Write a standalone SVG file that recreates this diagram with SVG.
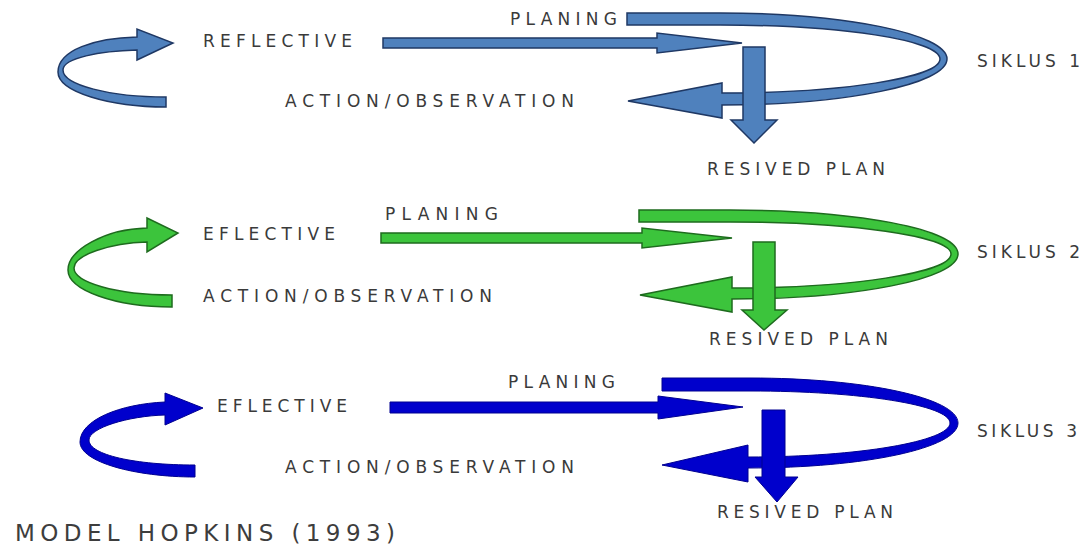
<svg xmlns="http://www.w3.org/2000/svg" width="1089" height="546" viewBox="0 0 1089 546">
<style>
text{font-family:"DejaVu Sans","Liberation Sans",sans-serif;font-size:17px;fill:#3a3a3a}
.title{font-size:23px;fill:#3d3d3d}
.c1{fill:#4f81bd;stroke:#1f3864;stroke-width:1.5;stroke-linejoin:miter}
.c2{fill:#3cc43c;stroke:#1e6b1e;stroke-width:1.5}
.c3{fill:#0000cc;stroke:#000090;stroke-width:1}
</style>
<rect width="1089" height="546" fill="#ffffff"/>
<g id="connectors">
  <!-- cycle 1 -->
  <path class="c1" d="M166,97 L166,107 C110,107 58,92 58,72 C58,50 95,38 137,37 L137,29 L173,43 L137,60 L137,50 C100,51 63,58 63,70 C63,85 110,97 166,97 Z"/>
  <path class="c1" d="M627,13 L720,13 C845,13 947,34 947,59 C947,84 845,105 722,105 L722,118 L628,101 L722,83 L722,93 C840,93 940,78 940,59 C940,40 840,25 720,25 L627,25 Z"/>
  <path class="c1" d="M383,38 L657,38 L657,33 L742,43 L657,53 L657,48 L383,48 Z"/>
  <path class="c1" d="M743,47 L765,47 L765,120 L777,120 L754,143 L731,120 L743,120 Z"/>
  <!-- cycle 2 -->
  <path class="c2" d="M172,295 L172,307 C115,307 68,290 68,270 C68,250 105,229 147,228 L147,218 L178,233 L147,252 L147,242 C110,243 74,255 74,268 C74,282 115,295 172,295 Z"/>
  <path class="c2" d="M639,210 L730,210 C856,210 958,229 958,254 C958,279 856,299 732,299 L732,312 L640,295 L732,277 L732,288 C850,288 951,273 951,254 C951,236 850,222 730,222 L639,222 Z"/>
  <path class="c2" d="M381,233 L642,233 L642,228 L732,238 L642,248 L642,243 L381,243 Z"/>
  <path class="c2" d="M753,242 L775,242 L775,310 L787,310 L764,330 L742,310 L753,310 Z"/>
  <!-- cycle 3 -->
  <path class="c3" d="M195,465 L195,477 C135,477 80,462 80,442 C80,420 120,404 165,402 L165,393 L203,408 L165,425 L165,415 C128,416 89,428 89,440 C89,455 135,465 195,465 Z"/>
  <path class="c3" d="M662,378 L750,378 C865,378 958,398 958,423 C958,448 865,468 748,468 L748,482 L662,465 L748,445 L748,457 C860,457 950,441 950,423 C950,405 860,391 750,391 L662,391 Z"/>
  <path class="c3" d="M390,402 L658,402 L658,396 L743,407 L658,419 L658,413 L390,413 Z"/>
  <path class="c3" d="M762,410 L785,410 L785,477 L798,477 L777,502 L755,477 L762,477 Z"/>
</g>
<g id="siklus1">
  <text x="510" y="25" textLength="107" lengthAdjust="spacing">PLANING</text>
  <text x="203" y="47" textLength="149" lengthAdjust="spacing">REFLECTIVE</text>
  <text x="285" y="107" textLength="289" lengthAdjust="spacing">ACTION/OBSERVATION</text>
  <text x="977" y="67" textLength="103" lengthAdjust="spacing">SIKLUS 1</text>
  <text x="707" y="175" textLength="178" lengthAdjust="spacing">RESIVED PLAN</text>
</g>
<g id="siklus2">
  <text x="385" y="220" textLength="113" lengthAdjust="spacing">PLANING</text>
  <text x="203" y="240" textLength="132" lengthAdjust="spacing">EFLECTIVE</text>
  <text x="203" y="302" textLength="289" lengthAdjust="spacing">ACTION/OBSERVATION</text>
  <text x="977" y="258" textLength="103" lengthAdjust="spacing">SIKLUS 2</text>
  <text x="709" y="345" textLength="179" lengthAdjust="spacing">RESIVED PLAN</text>
</g>
<g id="siklus3">
  <text x="508" y="388" textLength="107" lengthAdjust="spacing">PLANING</text>
  <text x="217" y="412" textLength="130" lengthAdjust="spacing">EFLECTIVE</text>
  <text x="285" y="473" textLength="289" lengthAdjust="spacing">ACTION/OBSERVATION</text>
  <text x="977" y="437" textLength="100" lengthAdjust="spacing">SIKLUS 3</text>
  <text x="717" y="518" textLength="176" lengthAdjust="spacing">RESIVED PLAN</text>
</g>
<g id="title">
  <text class="title" x="15" y="541" textLength="380" lengthAdjust="spacing">MODEL HOPKINS  (1993)</text>
</g>
</svg>
